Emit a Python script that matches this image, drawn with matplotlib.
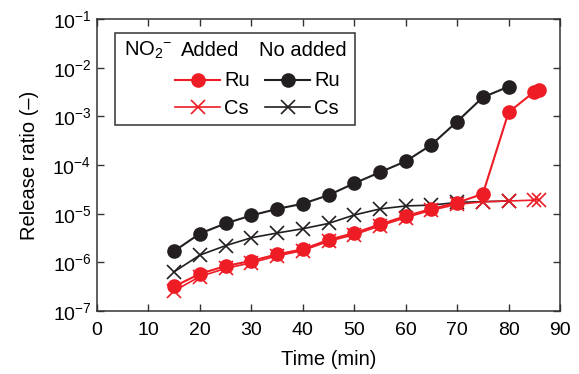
import matplotlib
matplotlib.use("Agg")
import matplotlib.pyplot as plt
from matplotlib.lines import Line2D
from matplotlib.patches import Rectangle
from matplotlib.ticker import NullLocator, FixedLocator

plt.rcParams['font.family'] = ['Liberation Sans', 'DejaVu Sans']
plt.rcParams['mathtext.fontset'] = 'custom'
plt.rcParams['mathtext.rm'] = 'Liberation Sans'

# Data
t_black = [15, 20, 25, 30, 35, 40, 45, 50, 55, 60, 65, 70, 75, 80]
ru_noadd = [1.7e-6, 3.9e-6, 6.3e-6, 9.2e-6, 1.25e-5, 1.6e-5, 2.4e-5, 4.2e-5,
            7.1e-5, 1.19e-4, 2.6e-4, 7.8e-4, 2.46e-3, 4.07e-3]
cs_noadd = [6.4e-7, 1.41e-6, 2.2e-6, 3.2e-6, 4.0e-6, 4.9e-6, 6.3e-6, 9.4e-6,
            1.25e-5, 1.44e-5, 1.5e-5, 1.7e-5, 1.77e-5, 1.82e-5]
t_red = [15, 20, 25, 30, 35, 40, 45, 50, 55, 60, 65, 70, 75, 80, 85, 86]
ru_added = [3.2e-7, 5.8e-7, 8.4e-7, 1.07e-6, 1.46e-6, 1.85e-6, 2.9e-6, 4.0e-6,
            6.0e-6, 8.9e-6, 1.25e-5, 1.68e-5, 2.54e-5, 1.21e-3, 3.2e-3, 3.5e-3]
cs_added = [2.6e-7, 5.1e-7, 7.5e-7, 9.8e-7, 1.35e-6, 1.75e-6, 2.7e-6, 3.7e-6,
            5.6e-6, 8.3e-6, 1.18e-5, 1.55e-5, 1.75e-5, 1.82e-5, 1.9e-5, 1.95e-5]

xticks = [0, 10, 20, 30, 40, 50, 60, 70, 80, 90]

RED = '#ee1c25'
BLACK = '#231f20'
FS = 14

fig = plt.figure(figsize=(5.79, 3.74), dpi=100)
ax = fig.add_axes([97/579, 1-311/374, (560-97)/579, (311-19)/374])

ax.plot(t_black, cs_noadd, color=BLACK, lw=1.2, marker='x', ms=10, mew=1.2, zorder=3)
ax.plot(t_red, cs_added, color=RED, lw=1.2, marker='x', ms=10, mew=1.2, zorder=4)
ax.plot(t_black, ru_noadd, color=BLACK, lw=1.5, marker='o', ms=9.5, zorder=5)
ax.plot(t_red, ru_added, color=RED, lw=1.5, marker='o', ms=9.5, zorder=6)

ax.set_yscale('log')
ax.set_xlim(0, 90)
ax.set_ylim(1e-7, 1e-1)
ax.xaxis.set_major_locator(FixedLocator(xticks))
ax.yaxis.set_minor_locator(NullLocator())
ax.xaxis.set_minor_locator(NullLocator())
ax.tick_params(which='both', direction='in', top=True, right=True, length=5,
               width=1, color='#333333', labelsize=FS)
ax.tick_params(axis='x', pad=8)
ax.tick_params(axis='y', pad=4)
for s in ax.spines.values():
    s.set_color('#333333')
    s.set_linewidth(1.1)

ax.set_xlabel('Time (min)', fontsize=FS + 0.5, labelpad=8)
ax.set_ylabel('Release ratio (\u2013)', fontsize=FS + 0.5, labelpad=10)

# Manual legend
tr = ax.transAxes
def ax_xy(px, py):
    return ((px - 97) / 463, (311 - py) / 292)

x0, y0 = ax_xy(115, 125)
x1, y1 = ax_xy(355, 33)
ax.add_patch(Rectangle((x0, y0), x1 - x0, y1 - y0, transform=tr, fill=True,
                       facecolor='white', edgecolor='#333333', lw=1.1, zorder=10))

def txt(px, py, s, ha='left'):
    x, y = ax_xy(px, py)
    ax.text(x, y, s, transform=tr, fontsize=FS + 0.5, ha=ha, va='center', zorder=11)

txt(124, 50, 'NO$_2$$^{-}$')
txt(181, 50, 'Added')
txt(259, 50, 'No added')

def legline(px0, px1, py, color, marker, ms, mew, lw):
    xa, ya = ax_xy(px0, py)
    xb, _ = ax_xy(px1, py)
    ax.add_line(Line2D([xa, xb], [ya, ya], transform=tr, color=color, lw=lw, zorder=11))
    xm = (xa + xb) / 2
    ax.add_line(Line2D([xm], [ya], transform=tr, color=color, marker=marker,
                       ms=ms, mew=mew, lw=0, zorder=12))

legline(175, 220, 80, RED, 'o', 9.5, 1, 1.5)
legline(265, 310, 80, BLACK, 'o', 9.5, 1, 1.5)
legline(175, 220, 107, RED, 'x', 10, 1.2, 1.2)
legline(265, 310, 107, BLACK, 'x', 10, 1.2, 1.2)
txt(224, 80, 'Ru')
txt(314, 80, 'Ru')
txt(224, 108, 'Cs')
txt(314, 108, 'Cs')

fig.savefig('out.png', dpi=100)
